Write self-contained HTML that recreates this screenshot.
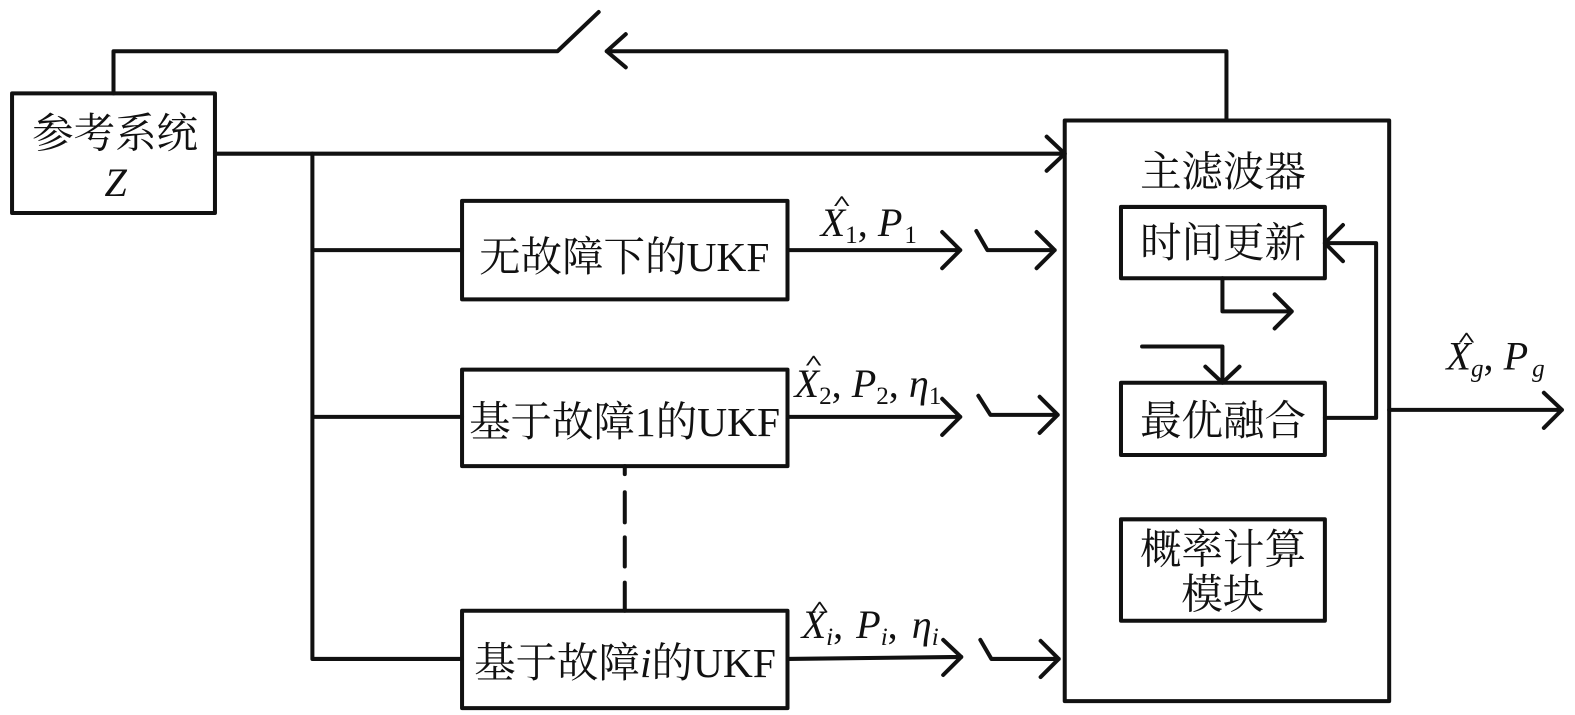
<!DOCTYPE html>
<html><head><meta charset="utf-8"><style>
html,body{margin:0;padding:0;background:#fff}
svg{display:block}
.c{font-family:"Liberation Serif","Noto Serif CJK SC",serif;font-size:41.3px;fill:#111}
.m{font-family:"Liberation Serif",serif;font-size:40px;font-style:italic;fill:#111}
.s{font-size:25px}
.n{font-style:normal}
.h{font-family:"Liberation Serif",serif;font-size:30px;font-weight:bold;fill:#111;text-anchor:middle}
</style></head><body>
<svg width="1575" height="715" viewBox="0 0 1568 711.8" xmlns="http://www.w3.org/2000/svg">
<g fill="none" stroke="#111" stroke-width="4" stroke-linecap="round" stroke-linejoin="round">
<rect x="12" y="93" width="202" height="119"/>
<rect x="460" y="200" width="324" height="98"/>
<rect x="460" y="368" width="324" height="96"/>
<rect x="460" y="608" width="324" height="97"/>
<rect x="1060" y="120" width="323" height="578"/>
<rect x="1116" y="206" width="203" height="71"/>
<rect x="1116" y="381" width="203" height="72"/>
<rect x="1116" y="517" width="203" height="101"/>
<path d="M113 93V51H555L596 12"/>
<path d="M1221 120V51H604M623 34L604 51L623 67"/>
<path d="M214 153H1060M1042 136L1060 153L1042 170"/>
<path d="M311 153V656H460M311 249H460M311 415H460"/>
<path d="M784 249H956M938 231L956 249L938 267"/>
<path d="M784 415H956M938 397L956 415L938 433"/>
<path d="M784 656L957 654M939 637L957 654L939 672"/>
<path d="M972 230L983 249H1050M1032 231L1050 249L1032 267"/>
<path d="M974 394L986 413H1053M1035 395L1053 413L1035 431"/>
<path d="M976 637L987 656H1054M1036 638L1054 656L1036 674"/>
<path d="M622 464V472M622 490V520M622 535V564M622 580V608"/>
<path d="M1319 416H1370V242H1319M1337 224L1319 242L1337 260"/>
<path d="M1217 277V310H1286M1269 293L1286 310L1269 327"/>
<path d="M1137 345H1217V381M1200 365L1217 381L1234 365"/>
<path d="M1383 408H1555M1537 391L1555 408L1537 426"/>
</g>
<text class="c" x="32" y="147">参考系统</text>
<text class="m" x="104" y="195">Z</text>
<text class="c" x="1135" y="185">主滤波器</text>
<text class="c" x="1135" y="256">时间更新</text>
<text class="c" x="1135" y="433">最优融合</text>
<text class="c" x="1135" y="561">概率计算</text>
<text class="c" x="1176" y="606">模块</text>
<text class="c" x="477" y="270">无故障下的UKF</text>
<text class="c" x="467" y="434">基于故障1的UKF</text>
<text class="c" x="472" y="674">基于故障<tspan font-style="italic">i</tspan>的UKF</text>

<text class="h" transform="translate(838 209) scale(1.1 .7)">^</text>
<text class="m" x="817" y="235">X<tspan class="s n" dy="7">1</tspan><tspan class="n" dy="-7">, </tspan>P<tspan class="s n" dy="7" dx="2">1</tspan></text>
<text class="h" transform="translate(810 368) scale(1.1 .7)">^</text>
<text class="m" x="791" y="395">X<tspan class="s n" dy="7">2</tspan><tspan class="n" dy="-7">, </tspan>P<tspan class="s n" dy="7">2</tspan><tspan class="n" dy="-7">, </tspan>η<tspan class="s n" dy="7">1</tspan></text>
<text class="h" transform="translate(816 613) scale(1.1 .7)">^</text>
<text class="m" x="798" y="635">X<tspan class="s" dy="7">i</tspan><tspan class="n" dy="-7">, </tspan><tspan dx="3">P</tspan><tspan class="s" dy="7">i</tspan><tspan class="n" dy="-7">, </tspan><tspan dx="4">η</tspan><tspan class="s" dy="7">i</tspan></text>
<text class="h" transform="translate(1460 345) scale(1.1 .7)">^</text>
<text class="m" x="1440" y="368">X<tspan class="s" dy="7">g</tspan><tspan class="n" dy="-7">, </tspan>P<tspan class="s" dy="7" dx="4">g</tspan></text>
</svg>
</body></html>
